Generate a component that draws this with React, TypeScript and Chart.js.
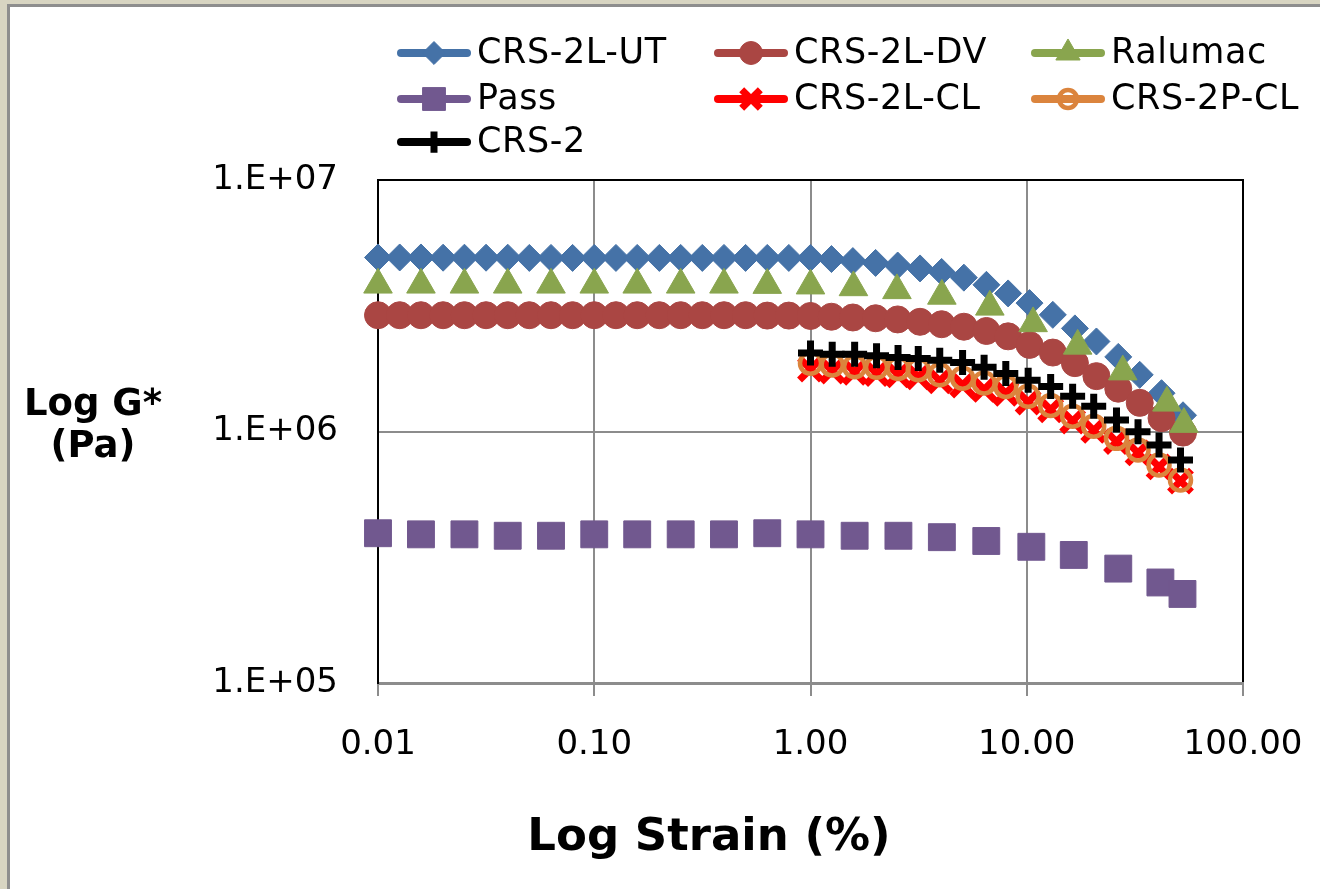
import React, { useEffect, useRef } from "react";
import { Chart, registerables } from "chart.js";

Chart.register(...registerables);

// ---------- data ----------
const strainFine = [
  0.01, 0.0126, 0.0158, 0.02, 0.0251, 0.0316, 0.0398, 0.0501, 0.0631, 0.0794,
  0.1, 0.126, 0.158, 0.2, 0.251, 0.316, 0.398, 0.501, 0.631, 0.794,
  1.0, 1.25, 1.57, 2.0, 2.53, 3.21, 4.04, 5.12, 6.51, 8.2,
  10.3, 13.2, 16.7, 21.0, 26.5, 33.3, 42.0, 52.8,
];
const ut2LG = [
  4.92e6, 4.92e6, 4.92e6, 4.91e6, 4.91e6, 4.91e6, 4.91e6, 4.9e6, 4.9e6, 4.9e6,
  4.9e6, 4.9e6, 4.9e6, 4.9e6, 4.9e6, 4.9e6, 4.9e6, 4.9e6, 4.9e6, 4.9e6,
  4.9e6, 4.85e6, 4.76e6, 4.68e6, 4.57e6, 4.45e6, 4.31e6, 4.09e6, 3.83e6, 3.54e6,
  3.24e6, 2.91e6, 2.57e6, 2.28e6, 1.98e6, 1.68e6, 1.42e6, 1.16e6,
];
const dv2LG = [
  2.9e6, 2.9e6, 2.9e6, 2.9e6, 2.9e6, 2.9e6, 2.9e6, 2.9e6, 2.9e6, 2.9e6,
  2.9e6, 2.9e6, 2.9e6, 2.9e6, 2.9e6, 2.9e6, 2.9e6, 2.9e6, 2.89e6, 2.89e6,
  2.88e6, 2.86e6, 2.84e6, 2.82e6, 2.79e6, 2.73e6, 2.67e6, 2.61e6, 2.51e6, 2.39e6,
  2.21e6, 2.06e6, 1.87e6, 1.66e6, 1.48e6, 1.3e6, 1.13e6, 0.99e6,
];
const strainRalumac = [
  0.01, 0.0158, 0.0251, 0.0398, 0.0631, 0.1, 0.158, 0.251, 0.398, 0.631,
  1.0, 1.58, 2.51, 4.05, 6.75, 10.7, 17.2, 27.8, 44.5, 53.3,
];
const ralumacG = [
  3.83e6, 3.83e6, 3.83e6, 3.83e6, 3.83e6, 3.83e6, 3.83e6, 3.83e6, 3.83e6, 3.82e6,
  3.8e6, 3.74e6, 3.64e6, 3.46e6, 3.13e6, 2.69e6, 2.19e6, 1.73e6, 1.3e6, 1.07e6,
];
const strainPass = [
  0.01, 0.0158, 0.0251, 0.0398, 0.0631, 0.1, 0.158, 0.251, 0.398, 0.631,
  1.0, 1.6, 2.55, 4.05, 6.5, 10.5, 16.5, 26.5, 41.5, 52.5,
];
const passG = [
  3.94e5, 3.9e5, 3.9e5, 3.85e5, 3.85e5, 3.9e5, 3.9e5, 3.9e5, 3.9e5, 3.94e5,
  3.9e5, 3.85e5, 3.85e5, 3.8e5, 3.67e5, 3.48e5, 3.23e5, 2.85e5, 2.51e5, 2.26e5,
];
const strainHigh = [
  1.0, 1.26, 1.6, 2.02, 2.54, 3.15, 3.96, 5.05, 6.35, 8.0,
  10.15, 12.9, 16.3, 20.4, 26.0, 32.7, 40.9, 51.4,
];
const cl2LG = [
  1.77e6, 1.74e6, 1.72e6, 1.7e6, 1.68e6, 1.65e6, 1.59e6, 1.53e6, 1.47e6, 1.42e6,
  1.31e6, 1.22e6, 1.1e6, 1.01e6, 0.912e6, 0.822e6, 0.723e6, 0.635e6,
];
const cl2PG = [
  1.87e6, 1.84e6, 1.81e6, 1.8e6, 1.78e6, 1.76e6, 1.68e6, 1.63e6, 1.56e6, 1.51e6,
  1.38e6, 1.27e6, 1.15e6, 1.05e6, 0.939e6, 0.844e6, 0.736e6, 0.641e6,
];
const crs2G = [
  2.05e6, 2.03e6, 2.03e6, 2.0e6, 1.97e6, 1.95e6, 1.92e6, 1.88e6, 1.8e6, 1.7e6,
  1.6e6, 1.51e6, 1.38e6, 1.26e6, 1.11e6, 0.998e6, 0.883e6, 0.77e6,
];

const seriesNames = ["CRS-2L-UT", "CRS-2L-DV", "Ralumac", "Pass", "CRS-2L-CL", "CRS-2P-CL", "CRS-2"];
const xTickValues = [0.01, 0.1, 1, 10, 100];
const xTickLabels = ["0.01", "0.10", "1.00", "10.00", "100.00"];
const yTickValues = [1e5, 1e6, 1e7];
const yTickLabels = ["1.E+05", "1.E+06", "1.E+07"];
const xTitle = "Log Strain (%)";
const yTitleLines = ["Log G*", "(Pa)"];

// ---------- styles ----------
const FONT = "'DejaVu Sans', Verdana, sans-serif";
const styles = [
  { style: "rectRot", r: 13.5, bg: "#4572A7", border: "#4572A7", bw: 1 },
  { style: "circle", r: 13.5, bg: "#AA4643", border: "#AA4643", bw: 1 },
  { style: "triangle", r: 16.5, bg: "#89A54E", border: "#89A54E", bw: 1 },
  { style: "rect", r: 19, bg: "#71588F", border: "#71588F", bw: 1 },
  { style: "crossRot", r: 15.5, bg: "#FF0000", border: "#FF0000", bw: 7 },
  { style: "circle", r: 10.5, bg: "rgba(0,0,0,0)", border: "#DB843D", bw: 4.5 },
  { style: "cross", r: 12.5, bg: "#000000", border: "#000000", bw: 7 },
];
const seriesX = [strainFine, strainFine, strainRalumac, strainPass, strainHigh, strainHigh, strainHigh];
const seriesY = [ut2LG, dv2LG, ralumacG, passG, cl2LG, cl2PG, crs2G];

function drawMarker(ctx: CanvasRenderingContext2D, s: any, x: number, y: number, r: number) {
  ctx.save();
  ctx.fillStyle = s.bg;
  ctx.strokeStyle = s.border;
  ctx.lineWidth = s.bw;
  ctx.beginPath();
  if (s.style === "rectRot") {
    ctx.moveTo(x, y - r); ctx.lineTo(x + r, y); ctx.lineTo(x, y + r); ctx.lineTo(x - r, y); ctx.closePath();
    ctx.fill(); ctx.stroke();
  } else if (s.style === "circle") {
    ctx.arc(x, y, r, 0, Math.PI * 2);
    ctx.fill(); ctx.stroke();
  } else if (s.style === "triangle") {
    for (let i = 0; i < 3; i++) {
      const a = (i * 2 * Math.PI) / 3;
      const px = x + Math.sin(a) * r, py = y - Math.cos(a) * r;
      if (i === 0) ctx.moveTo(px, py); else ctx.lineTo(px, py);
    }
    ctx.closePath(); ctx.fill(); ctx.stroke();
  } else if (s.style === "rect") {
    const h = r * Math.SQRT1_2;
    ctx.rect(x - h, y - h, 2 * h, 2 * h);
    ctx.fill(); ctx.stroke();
  } else if (s.style === "crossRot") {
    const h = r * Math.SQRT1_2;
    ctx.moveTo(x - h, y - h); ctx.lineTo(x + h, y + h);
    ctx.moveTo(x + h, y - h); ctx.lineTo(x - h, y + h);
    ctx.stroke();
  } else if (s.style === "cross") {
    ctx.moveTo(x - r, y); ctx.lineTo(x + r, y);
    ctx.moveTo(x, y - r); ctx.lineTo(x, y + r);
    ctx.stroke();
  }
  ctx.restore();
}

const legendCols = [397, 714, 1031];
const legendRows = [53, 99, 142];

const decorPlugin = {
  id: "decor",
  afterDraw(chart: any) {
    const ctx: any = chart.ctx;
    const a = chart.chartArea;
    ctx.save();
    // plot area top / right border
    ctx.strokeStyle = "#000";
    ctx.lineWidth = 2;
    ctx.beginPath();
    ctx.moveTo(a.left, a.top);
    ctx.lineTo(a.right, a.top);
    ctx.lineTo(a.right, a.bottom - 1);
    ctx.stroke();

    // legend
    seriesNames.forEach((name, i) => {
      const col = i % 3, row = Math.floor(i / 3);
      const x0 = legendCols[col], y0 = legendRows[row];
      const s = styles[i];
      ctx.save();
      ctx.strokeStyle = s.border;
      ctx.lineWidth = 8;
      ctx.lineCap = "round";
      ctx.beginPath();
      ctx.moveTo(x0 + 4, y0);
      ctx.lineTo(x0 + 70, y0);
      ctx.stroke();
      ctx.restore();
      drawMarker(ctx, s, x0 + 37, y0, s.r * 0.85);
      ctx.save();
      ctx.fillStyle = "#000";
      ctx.font = `35px ${FONT}`;
      ctx.letterSpacing = "0.6px";
      ctx.textAlign = "left";
      ctx.textBaseline = "middle";
      ctx.fillText(name, x0 + 80, y0 + 1);
      ctx.restore();
    });

    // axis titles
    ctx.fillStyle = "#000";
    ctx.textAlign = "center";
    ctx.textBaseline = "middle";
    ctx.font = `bold 37px ${FONT}`;
    ctx.fillText(yTitleLines[0], 93, 405);
    ctx.fillText(yTitleLines[1], 93, 447);
    ctx.font = `bold 45px ${FONT}`;
    ctx.fillText(xTitle, 709, 838);
    ctx.restore();
  },
};

export default function App() {
  const ref = useRef<HTMLCanvasElement | null>(null);
  useEffect(() => {
    if (!ref.current) return;
    const datasets = seriesNames.map((name, i) => ({
      label: name,
      data: seriesX[i].map((x, j) => ({ x, y: seriesY[i][j] })),
      pointStyle: styles[i].style,
      pointRadius: styles[i].r,
      pointBackgroundColor: styles[i].bg,
      pointBorderColor: styles[i].border,
      pointBorderWidth: styles[i].bw,
      showLine: false,
      clip: false as any,
      order: seriesNames.length - i,
    }));
    const chart = new Chart(ref.current, {
      type: "scatter",
      data: { datasets },
      plugins: [decorPlugin],
      options: {
        animation: false,
        responsive: false,
        events: [],
        layout: { padding: { top: 180, right: 77, left: 0, bottom: 0 } },
        plugins: { legend: { display: false }, tooltip: { enabled: false }, title: { display: false } },
        scales: {
          x: {
            type: "logarithmic",
            min: 0.01,
            max: 100,
            afterFit: (s: any) => { s.height = 206; s.paddingLeft = 0; s.paddingRight = 0; },
            afterBuildTicks: (s: any) => { s.ticks = xTickValues.map((v) => ({ value: v })); },
            ticks: {
              callback: (_v: any, i: number) => xTickLabels[i],
              font: { family: FONT, size: 34 },
              color: "#000",
              padding: 29,
              maxRotation: 0,
              autoSkip: false,
            },
            grid: { color: "#8c8c8c", lineWidth: 2, tickLength: 13, drawTicks: true, tickColor: "#8c8c8c", tickWidth: 2 },
            border: { color: "#8c8c8c", width: 3 },
          },
          y: {
            type: "logarithmic",
            min: 1e5,
            max: 1e7,
            afterFit: (s: any) => { s.width = 378; s.paddingTop = 0; s.paddingBottom = 0; },
            afterBuildTicks: (s: any) => { s.ticks = yTickValues.map((v) => ({ value: v })); },
            ticks: {
              callback: (_v: any, i: number) => yTickLabels[i],
              font: { family: FONT, size: 34 },
              color: "#000",
              padding: 40,
              autoSkip: false,
            },
            grid: { color: "#8c8c8c", lineWidth: 2, drawTicks: false },
            border: { color: "#000", width: 2 },
          },
        },
      } as any,
    });
    return () => chart.destroy();
  }, []);

  return (
    <div style={{ position: "fixed", left: 0, top: 0, width: 1320, height: 889, background: "#D8D5C2", overflow: "hidden" }}>
      <div
        style={{
          position: "absolute", left: 7, top: 4, right: 0, bottom: 0,
          background: "#FFFFFF", borderLeft: "3px solid #8E8E8E", borderTop: "3px solid #8E8E8E",
        }}
      />
      <canvas ref={ref} width={1320} height={889} style={{ position: "absolute", left: 0, top: 0, width: 1320, height: 889 }} />
    </div>
  );
}
